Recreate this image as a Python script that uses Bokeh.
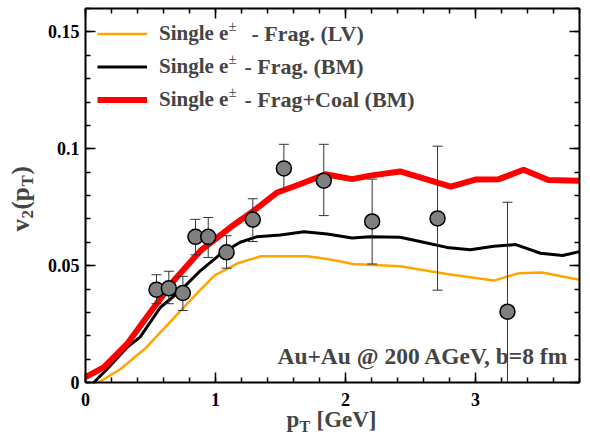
from math import pi
import numpy as np
from bokeh.plotting import figure
from bokeh.models import (Range1d, FixedTicker, LinearAxis, ColumnDataSource, Label,
                          Legend, LegendItem, CustomJSTickFormatter)
from bokeh.embed import file_html
from bokeh.resources import INLINE

# ---------------- data ----------------
pt_data = [0.546, 0.641, 0.749, 0.846, 0.944, 1.085, 1.287, 1.526, 1.833, 2.205, 2.708, 3.246]
v2_data = [0.0397, 0.0403, 0.0383, 0.0623, 0.0623, 0.0557, 0.0697, 0.0916, 0.0863, 0.0689, 0.0702, 0.0303]
v2_hi = [0.0461, 0.0476, 0.0454, 0.0698, 0.0706, 0.0628, 0.0786, 0.1019, 0.1019, 0.0870, 0.1011, 0.0771]
v2_lo = [0.0337, 0.0337, 0.0308, 0.0546, 0.0535, 0.0489, 0.0603, 0.0826, 0.0714, 0.0507, 0.0395, -0.016]

pt_coal = [0.0, 0.14, 0.32, 0.47, 0.68, 0.885, 1.115, 1.295, 1.475, 1.654, 1.846, 2.05, 2.19, 2.42,
           2.81, 3.0, 3.18, 3.37, 3.56, 3.8]
v2_coal = [0.0023, 0.0065, 0.0165, 0.0279, 0.0436, 0.0564, 0.0664, 0.0735, 0.0813, 0.0849, 0.0891,
           0.0870, 0.0885, 0.0903, 0.0838, 0.0868, 0.0870, 0.0910, 0.0866, 0.0863]

pt_bm = [0.064, 0.167, 0.32, 0.42, 0.577, 0.73, 0.885, 1.04, 1.19, 1.32, 1.5, 1.68, 1.86, 2.05, 2.19,
         2.42, 2.6, 2.78, 2.96, 3.14, 3.31, 3.5, 3.67, 3.8]
v2_bm = [0.0, 0.0058, 0.0151, 0.0194, 0.0322, 0.0393, 0.0479, 0.0550, 0.0600, 0.0624, 0.0631, 0.0645,
         0.0635, 0.0618, 0.0624, 0.0621, 0.0600, 0.0578, 0.0568, 0.0583, 0.0590, 0.0553, 0.0543, 0.0560]

pt_lv = [0.1, 0.27, 0.47, 0.65, 0.83, 0.99, 1.17, 1.35, 1.705, 1.86, 2.06, 2.42, 2.78, 3.14, 3.33, 3.51, 3.8]
v2_lv = [0.0, 0.0058, 0.0151, 0.0258, 0.0365, 0.0457, 0.0510, 0.0540, 0.0540, 0.0528, 0.0507, 0.0497,
         0.0464, 0.0436, 0.0467, 0.0471, 0.0440]

x_major = [0, 1, 2, 3]
y_major = [0, 0.05, 0.1, 0.15]

legend_rows = [("Single e", "±", "- Frag. (LV)"),
               ("Single e", "±", "- Frag. (BM)"),
               ("Single e", "±", "- Frag+Coal (BM)")]
note_text = "Au+Au @ 200 AGeV, b=8 fm"

# ---------------- figure ----------------
FONT = "Liberation Serif"
W, H = 590, 436
X0, X1, Y0, Y1 = 0.0, 3.8, 0.0, 0.16          # data area
FR_L, FR_R, FR_T, FR_B = 85.0, 579.0, 8.0, 382.0   # data area edges in page px
SX = (FR_R - FR_L) / (X1 - X0)
SY = (FR_B - FR_T) / (Y1 - Y0)


def px2x(px):
    return X0 + (px - FR_L) / SX


def py2y(py):
    return Y0 + (FR_B - py) / SY


p = figure(width=W, height=H, output_backend="svg", toolbar_location=None,
           x_range=Range1d(px2x(0), px2x(W)), y_range=Range1d(py2y(H), py2y(0)),
           min_border=0)
p.grid.visible = False
p.outline_line_color = None
p.background_fill_color = "white"
p.border_fill_color = "white"

xt = FixedTicker(ticks=x_major, minor_ticks=list(np.round(np.arange(0, 3.81, 0.2), 3)))
yt = FixedTicker(ticks=y_major, minor_ticks=list(np.round(np.arange(0, 0.161, 0.01), 4)))
fmt = CustomJSTickFormatter(code="return String(+tick.toFixed(3));")
blank = CustomJSTickFormatter(code="return '';")


def style_axis(ax):
    ax.axis_line_width = 2
    ax.axis_line_color = "black"
    ax.major_tick_in = 10
    ax.major_tick_out = 0
    ax.minor_tick_in = 5
    ax.minor_tick_out = 0
    ax.major_tick_line_width = 1.5
    ax.minor_tick_line_width = 1.5
    ax.major_label_text_font = FONT
    ax.major_label_text_font_style = "bold"
    ax.major_label_text_font_size = "18px"
    ax.major_label_text_color = "black"


xa = p.xaxis[0]
xa.ticker = xt
xa.formatter = fmt
xa.fixed_location = Y0
xa.bounds = (X0, X1)
style_axis(xa)
xa.major_label_standoff = 10

ya = p.yaxis[0]
ya.ticker = yt
ya.formatter = fmt
ya.fixed_location = X0
ya.bounds = (Y0, Y1)
style_axis(ya)
ya.major_label_standoff = 6

for loc, tk, fixed, bnd in (("right", yt, X1, (Y0, Y1)), ("above", xt, Y1, (X0, X1))):
    ax = LinearAxis(ticker=tk, formatter=blank, fixed_location=fixed, bounds=bnd)
    style_axis(ax)
    ax.major_label_standoff = 0
    p.add_layout(ax, loc)

# curves
r_lv = p.line(pt_lv, v2_lv, line_color="#FFA500", line_width=2.5)
r_bm = p.line(pt_bm, v2_bm, line_color="black", line_width=3)
r_coal = p.line(pt_coal, v2_coal, line_color="#FF0000", line_width=6)

# error bars (cut at the x axis, as in the original)
lo_draw = [max(v, Y0) for v in v2_lo]
src = ColumnDataSource(dict(x=pt_data, y=v2_data, hi=v2_hi, lo=lo_draw))
cap_lo = ColumnDataSource(dict(x=[a for a, b in zip(pt_data, v2_lo) if b >= Y0],
                               y=[b for b in v2_lo if b >= Y0]))
p.segment(x0="x", y0="lo", x1="x", y1="hi", source=src, line_color="#333333", line_width=1)
p.scatter(x="x", y="hi", source=src, marker="dash", size=10, line_color="#333333", line_width=1)
p.scatter(x="x", y="y", source=cap_lo, marker="dash", size=10, line_color="#333333", line_width=1)
p.scatter(x="x", y="y", source=src, marker="circle", size=15, fill_color="#808080",
          line_color="black", line_width=1.5)

# legend: line samples + "Single e"; superscript and remainder as labels
ROW_H = 33
LINE_Y = [33, 66, 99]
leg = Legend(items=[LegendItem(label=r[0], renderers=[g]) for r, g in zip(legend_rows, (r_lv, r_bm, r_coal))],
             location=(97, H - (LINE_Y[0] - ROW_H / 2 + 3 * ROW_H)),
             glyph_width=50, glyph_height=ROW_H, label_height=ROW_H,
             spacing=0, padding=0, margin=0, border_line_color=None,
             background_fill_alpha=0, label_standoff=12,
             label_text_font=FONT, label_text_font_style="bold", label_text_font_size="21px",
             label_text_baseline="middle")
p.add_layout(leg)


def lab(txt, xpx, ypx, fs, bold=True, align="left", angle=0.0):
    p.add_layout(Label(x=px2x(xpx), y=py2y(ypx), text=txt, text_font=FONT,
                       text_font_style="bold" if bold else "normal", text_font_size=fs,
                       text_baseline="middle", text_align=align, angle=angle))


rest_x = [251, 244, 244]
for (a, pm, rest), ly, rx in zip(legend_rows, LINE_Y, rest_x):
    lab(pm, 228, ly - 8, "15px", bold=False)
    lab(rest, rx, ly, "22px")

lab(note_text, 568, 355, "23.5px", align="right")

# x-axis title  p_T [GeV]
lab("p", 286, 419, "23px")
lab("T", 299, 426, "16px")
lab("[GeV]", 316, 419, "23px")

# y-axis title  v_2(p_T)   (rotated, reads bottom to top)
for txt, xpx, ypx, fs in (("v", 20, 231, "25px"), ("2", 27, 218, "17px"), ("(p", 20, 209, "25px"),
                          ("T", 27, 186, "17px"), (")", 20, 174, "25px")):
    lab(txt, xpx, ypx, fs, angle=pi / 2)

open("out.html", "w").write(file_html(p, INLINE))
